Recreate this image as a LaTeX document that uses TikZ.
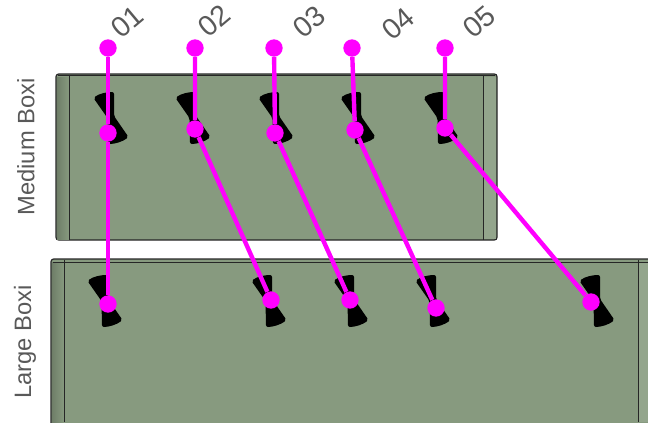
\documentclass[tikz,border=0pt]{standalone}
\usepackage{fontspec}
\setmainfont{Liberation Sans}
\usepackage{tikz}
\usetikzlibrary{positioning}
\definecolor{boxgreen}{HTML}{879A7F}
\definecolor{stripgreen}{HTML}{93A58C}
\definecolor{labelgray}{HTML}{595959}
\definecolor{pinkdot}{HTML}{FF00FF}
\tikzstyle{dot}=[circle, fill=pinkdot, inner sep=0pt, minimum size=13pt]
\tikzstyle{link}=[draw=pinkdot, line width=3.3pt]
\tikzstyle{boxface}=[draw=black!85, fill=boxgreen, line width=0.9pt, rounded corners=2pt]
\tikzstyle{edge}=[draw=black!85, line width=0.7pt]
\tikzstyle{lab}=[text=labelgray, font=\fontsize{17.8pt}{20pt}\selectfont, inner sep=0pt]
\tikzstyle{num}=[text=labelgray, font=\fontsize{21.5pt}{24pt}\selectfont, inner sep=0pt, rotate=40]
\newcommand{\boxslot}[2]{\fill[black, rounded corners=1.5pt, shift={(#1,#2)}]
  (-17.5,-20) .. controls (-12,-24.5) and (-4,-26) .. (3,-26) -- (3,-2) -- (17.5,19)
  .. controls (12,23.5) and (4,26) .. (-3,26) -- (-3.5,0) -- cycle;}

\begin{document}
\begin{tikzpicture}[x=0.75pt,y=-0.75pt]
\useasboundingbox (0,0) rectangle (648,422);

% medium box
\path[boxface] (56,74) rectangle (497,240);
\fill[stripgreen] (483,77) rectangle (496,239);
\shade[left color=boxgreen!82!black, right color=boxgreen] (57,77) rectangle (69,239);
\draw[edge] (69,75) -- (69,240);
\draw[edge] (483,75) -- (483,240);
\draw[edge, line width=1.1pt] (58,75.5) -- (495,75.5);

% large box
\path[boxface] (51,259) rectangle (660,440);
\shade[left color=boxgreen!82!black, right color=boxgreen] (52,262) rectangle (64,422);
\fill[stripgreen] (639,263) rectangle (648,422);
\draw[edge] (64,260) -- (64,422);
\draw[edge] (638,260) -- (638,422);
\draw[edge] (53,262) -- (648,262);

\boxslot{111}{118}
\boxslot{193}{118}
\boxslot{276}{118}
\boxslot{358}{118}
\boxslot{441}{118}

\boxslot{105}{301}
\boxslot{269}{301}
\boxslot{351}{301}
\boxslot{433}{301}
\boxslot{597}{301}

\node[lab, rotate=90] (medium) at (26,147) {Medium Boxi};
\node[lab, rotate=90] (large) at (25,342) {Large Boxi};

\node[num] (num1) at (127,22) {01};
\node[num] (num2) at (214,21) {02};
\node[num] (num3) at (309,22) {03};
\node[num] (num4) at (398,24) {04};
\node[num] (num5) at (479,22) {05};

\node[dot] (top1) at (108,48) {};
\node[dot] (top2) at (195,48) {};
\node[dot] (top3) at (274,48) {};
\node[dot] (top4) at (352,48) {};
\node[dot] (top5) at (445,48) {};

\node[dot] (mid1) at (108,133) {};
\node[dot] (mid2) at (195,129) {};
\node[dot] (mid3) at (275,133) {};
\node[dot] (mid4) at (355,130) {};
\node[dot] (mid5) at (445,128) {};

\node[dot] (low1) at (108,304) {};
\node[dot] (low2) at (271,300) {};
\node[dot] (low3) at (350,300) {};
\node[dot] (low4) at (436,308) {};
\node[dot] (low5) at (591,302) {};

\draw[link] (top1) -- (mid1) -- (low1);
\draw[link] (top2) -- (mid2) -- (low2);
\draw[link] (top3) -- (mid3) -- (low3);
\draw[link] (top4) -- (mid4) -- (low4);
\draw[link] (top5) -- (mid5) -- (low5);
\end{tikzpicture}
\end{document}
